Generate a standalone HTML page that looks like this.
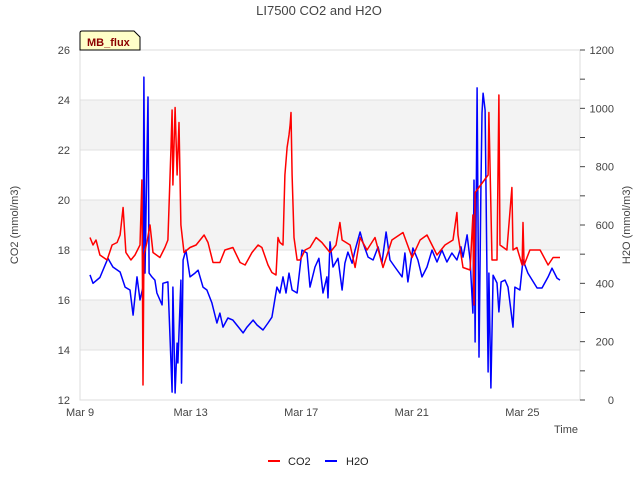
<!DOCTYPE html>
<html><head><meta charset="utf-8"><style>
body{margin:0;background:#fff}
svg{font-family:"Liberation Sans","DejaVu Sans",sans-serif}
</style></head><body>
<svg id="c" width="640" height="480" xmlns="http://www.w3.org/2000/svg">
<rect width="640" height="480" fill="#fff"/>
<text x="319" y="15" text-anchor="middle" font-size="13" fill="#444">LI7500 CO2 and H2O</text>
<g id="bands"></g>
<rect x="80" y="50" width="500" height="350" fill="none" stroke="#ddd"/>
<g id="axes" font-size="11" fill="#444"></g>
<g id="series"></g>
<text transform="translate(18,225) rotate(-90)" text-anchor="middle" font-size="11" fill="#444">CO2 (mmol/m3)</text>
<text transform="translate(630,225) rotate(-90)" text-anchor="middle" font-size="11" fill="#444">H2O (mmol/m3)</text>
<text x="578" y="433" text-anchor="end" font-size="11" fill="#444">Time</text>
<g>
<path d="M80,50 L80,33 Q80,31 82,31 L134,31 L140,37 L140,50 Z" fill="#ffffc8" stroke="#000" stroke-width="1"/>
<text x="87" y="46" font-size="11" font-weight="bold" fill="#8b0000">MB_flux</text>
</g>
<g>
<g><line x1="268" y1="461" x2="280" y2="461" stroke="red" stroke-width="2"/><text x="288" y="465" font-size="11" fill="#222">CO2</text></g>
<g><line x1="325" y1="461" x2="337" y2="461" stroke="blue" stroke-width="2"/><text x="346" y="465" font-size="11" fill="#222">H2O</text></g>
</g>
</svg>
<script>
const xTickLabels=["Mar 9","Mar 13","Mar 17","Mar 21","Mar 25"];
const xTickDays=[0,4,8,12,16];
const leftTicks=[12,14,16,18,20,22,24,26];
const rightTicks=[0,200,400,600,800,1000,1200];
const co2Days=[0.36,0.47,0.58,0.72,0.98,1.16,1.34,1.45,1.56,1.66,1.84,1.99,2.17,2.24,2.28,2.31,2.42,2.53,2.64,2.89,3.07,3.18,3.29,3.33,3.36,3.44,3.51,3.58,3.65,3.76,3.98,4.20,4.49,4.63,4.81,5.06,5.24,5.53,5.79,5.97,6.22,6.44,6.58,6.80,6.94,7.09,7.16,7.23,7.34,7.41,7.49,7.56,7.60,7.63,7.67,7.74,7.85,7.96,8.14,8.32,8.54,8.75,9.04,9.26,9.40,9.48,9.77,9.95,10.13,10.38,10.67,10.96,11.28,11.68,12.01,12.30,12.55,12.91,13.20,13.49,13.63,13.67,13.85,14.11,14.21,14.25,14.29,14.76,14.79,14.90,15.08,15.15,15.19,15.44,15.62,15.66,15.80,15.99,16.02,16.06,16.27,16.64,16.93,17.11,17.36];
const co2Vals=[18.5,18.2,18.4,17.8,17.6,18.2,18.3,18.6,19.7,17.9,17.6,17.8,18.2,20.8,12.6,17.8,18.3,19.0,17.9,17.7,18.1,18.4,22.1,23.6,20.6,23.7,21.0,23.1,19.0,17.9,18.1,18.2,18.6,18.3,17.5,17.5,18.0,18.1,17.5,17.4,17.9,18.2,18.1,17.4,17.1,17.0,18.5,18.3,18.2,21.0,22.1,22.6,23.0,23.5,21.0,18.5,17.6,17.6,18.0,18.1,18.5,18.3,17.9,18.2,19.1,18.4,18.2,17.3,18.5,18.0,18.5,17.3,18.4,18.7,17.7,18.4,18.6,17.8,18.2,18.4,19.5,18.6,17.3,17.2,19.4,15.8,20.3,21.0,23.5,17.6,17.6,24.2,18.2,18.0,20.5,18.0,18.1,17.4,19.1,17.4,18.0,18.0,17.4,17.7,17.7];
const h2oDays=[0.36,0.47,0.72,1.01,1.19,1.45,1.63,1.81,1.92,2.06,2.17,2.28,2.31,2.35,2.46,2.50,2.60,2.71,2.78,2.97,3.00,3.18,3.33,3.36,3.44,3.51,3.54,3.65,3.67,3.73,3.83,3.98,4.16,4.27,4.45,4.59,4.77,4.95,5.06,5.17,5.35,5.53,5.90,6.04,6.26,6.40,6.62,6.80,6.94,7.12,7.23,7.34,7.45,7.56,7.67,7.85,8.03,8.21,8.32,8.50,8.64,8.79,8.93,8.97,9.04,9.15,9.33,9.48,9.58,9.69,9.84,9.95,10.13,10.24,10.42,10.60,10.78,10.92,11.07,11.21,11.39,11.65,11.75,11.86,12.04,12.22,12.37,12.55,12.73,12.91,13.09,13.27,13.45,13.63,13.78,13.85,14.00,14.11,14.21,14.25,14.29,14.36,14.43,14.50,14.54,14.58,14.65,14.76,14.79,14.86,14.94,15.08,15.15,15.23,15.37,15.48,15.66,15.73,15.91,16.02,16.20,16.53,16.71,16.93,17.07,17.25,17.36];
const h2oVals=[429,400,420,486,456,439,387,377,291,422,343,387,1107,435,1039,435,422,411,367,326,400,405,27,387,24,195,127,411,58,480,514,422,435,445,387,377,333,264,298,250,281,274,230,250,274,257,240,264,284,387,367,422,367,435,377,367,514,504,387,456,486,367,422,350,542,456,486,377,469,507,469,514,576,538,490,480,525,469,576,480,456,422,504,405,521,480,422,456,514,473,514,473,504,480,525,490,566,480,298,754,199,1070,147,720,984,1052,994,96,435,41,428,401,302,405,411,387,250,387,377,480,435,384,384,422,452,418,411];

const NS="http://www.w3.org/2000/svg";
const svg=document.getElementById('c');
const X0=80,X1=580,Y0=400,Y1=50,PXD=27.65;
const xs=d=>X0+d*PXD;
const yL=v=>Y0-(v-12)/14*(Y0-Y1);
const yR=v=>Y0-v/1200*(Y0-Y1);
function mk(tag,attrs,parent){const e=document.createElementNS(NS,tag);for(const k in attrs)e.setAttribute(k,attrs[k]);parent.appendChild(e);return e;}
const bands=document.getElementById('bands');
[[14,16],[18,20],[22,24]].forEach(b=>{
 const r=mk('rect',{x:X0,y:yL(b[1]),width:X1-X0,height:yL(b[0])-yL(b[1]),fill:'#f3f3f3'},bands);
 
 
});
leftTicks.forEach(v=>{const l=mk('line',{x1:X0,x2:X1,y1:yL(v),y2:yL(v),stroke:'#e0e0e0'},bands);
 
 });
const axes=document.getElementById('axes');
leftTicks.forEach(v=>{
 const t=mk('text',{x:70,y:yL(v)+4,'text-anchor':'end'},axes);t.textContent=v;
 
 
});
for(let v=0;v<=1200;v+=100){mk('line',{x1:X1,x2:X1+5,y1:yR(v),y2:yR(v),stroke:'#444'},axes);}
rightTicks.forEach(v=>{
 const t=mk('text',{x:614,y:yR(v)+4,'text-anchor':'end'},axes);t.textContent=v;
 
 
});
xTickDays.forEach((d,i)=>{
 const t=mk('text',{x:xs(d),y:416,'text-anchor':'middle'},axes);t.textContent=xTickLabels[i];
 
 
});
const ser=document.getElementById('series');
function line(days,vals,fy,color,name){
 const p=mk('polyline',{points:days.map((d,i)=>xs(d).toFixed(1)+','+fy(vals[i]).toFixed(1)).join(' '),fill:'none',stroke:color,'stroke-width':1.5,'stroke-linejoin':'round'},ser);
 
 
}
line(h2oDays,h2oVals,yR,'blue','h2o-line');
line(co2Days,co2Vals,yL,'red','co2-line');
</script>
</body></html>
